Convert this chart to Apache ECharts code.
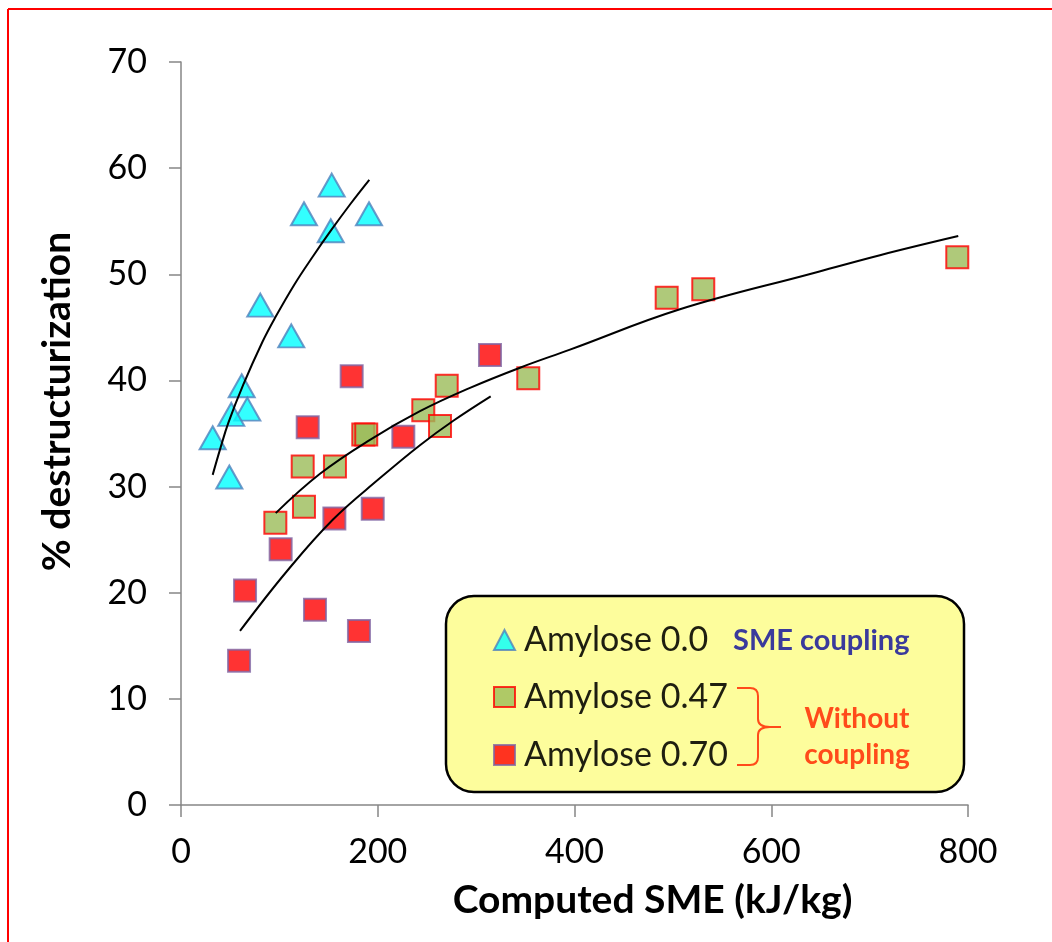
<!DOCTYPE html>
<html>
<head>
<meta charset="utf-8">
<script src="https://cdn.jsdelivr.net/npm/echarts@6/dist/echarts.min.js"></script>
<style>
  html, body { margin: 0; padding: 0; background: #fff; }
  #chart { width: 1052px; height: 942px; }
</style>
</head>
<body>
<div id="chart"></div>
<script>
// ---- Data ----
const seriesNames = ['Amylose 0.0', 'Amylose 0.47', 'Amylose 0.70'];

const sme00 = [153.2, 125.0, 191.1, 152.2, 80.6, 112.1, 61.7, 67.4, 51.1, 32.2, 49.1];
const des00 = [58.4, 55.7, 55.7, 54.1, 47.1, 44.2, 39.5, 37.3, 36.8, 34.6, 30.9];

const sme47 = [270.1, 246.3, 263.3, 185.3, 188.3, 123.7, 156.5, 125.0, 95.9, 353.0, 493.7, 530.9, 789.1];
const des47 = [39.5, 37.2, 35.7, 34.9, 34.9, 31.9, 31.9, 28.1, 26.6, 40.2, 47.8, 48.6, 51.6];

const sme70 = [314.1, 173.5, 128.8, 226.0, 155.9, 194.9, 101.3, 65.1, 136.2, 180.9, 59.0];
const des70 = [42.4, 40.4, 35.6, 34.7, 27.0, 27.9, 24.1, 20.2, 18.4, 16.4, 13.6];

// Trend curves
const fit00X = [32.2, 40.0, 48.1, 63.3, 82.6, 95.6, 115.0, 134.2, 153.0, 172.0, 191.4];
const fit00Y = [31.1, 33.6, 36.0, 39.6, 43.6, 45.9, 49.0, 51.7, 54.2, 56.6, 58.9];
const fit47X = [96.3, 141.3, 192.1, 242.9, 293.8, 344.6, 395.4, 507.2, 642.4, 710.5, 790.1];
const fit47Y = [27.5, 31.2, 34.4, 37.1, 39.3, 41.2, 42.9, 46.7, 50.1, 51.8, 53.6];
const fit70X = [60.0, 107.4, 154.5, 202.3, 242.9, 276.8, 314.8];
const fit70Y = [16.4, 22.0, 26.9, 30.8, 33.9, 36.2, 38.5];

const xTicks = [0, 200, 400, 600, 800];
const yTicks = [0, 10, 20, 30, 40, 50, 60, 70];

const zip = (a, b) => a.map((v, i) => [v, b[i]]);

const FONT = 'Lato';
const axisGray = '#868686';

const styles = {
  'Amylose 0.0': { color: '#00ffff', borderColor: '#4f81bd', borderWidth: 2 },
  'Amylose 0.47': { color: '#9bbb59', borderColor: '#ff0000', borderWidth: 2 },
  'Amylose 0.70': { color: '#ff0000', borderColor: '#8064a2', borderWidth: 2 }
};
const icons = { 'Amylose 0.0': 'triangle', 'Amylose 0.47': 'rect', 'Amylose 0.70': 'rect' };
const legendCenters = [640, 697, 755];
const LEG_LH = 34;

const chart = echarts.init(document.getElementById('chart'), null, { renderer: 'canvas' });

const legends = seriesNames.map((n, i) => ({
  data: [{ name: n, icon: icons[n], itemStyle: styles[n] }],
  left: 493,
  top: legendCenters[i] - LEG_LH / 2,
  padding: 0,
  itemWidth: 21,
  itemHeight: 20,
  z: 10,
  selectedMode: false,
  textStyle: { fontFamily: FONT, fontSize: 34, lineHeight: LEG_LH, color: '#1e1e10', padding: [0, 0, 0, 4] }
}));

const lineStyle = { color: '#000', width: 2 };

const braceColor = '#ff4b1a';
const bs = { stroke: braceColor, lineWidth: 2, fill: null };
const brace = [
  { type: 'line', z: 12, shape: { x1: 737, y1: 688, x2: 750, y2: 688 }, style: bs },
  { type: 'bezierCurve', z: 12, shape: { x1: 750, y1: 688, cpx1: 758, cpy1: 688, x2: 758, y2: 696 }, style: bs },
  { type: 'line', z: 12, shape: { x1: 758, y1: 696, x2: 758, y2: 719 }, style: bs },
  { type: 'bezierCurve', z: 12, shape: { x1: 758, y1: 719, cpx1: 758, cpy1: 727, x2: 770, y2: 727 }, style: bs },
  { type: 'line', z: 12, shape: { x1: 770, y1: 727, x2: 781, y2: 727 }, style: bs },
  { type: 'bezierCurve', z: 12, shape: { x1: 770, y1: 727, cpx1: 758, cpy1: 727, x2: 758, y2: 735 }, style: bs },
  { type: 'line', z: 12, shape: { x1: 758, y1: 735, x2: 758, y2: 757 }, style: bs },
  { type: 'bezierCurve', z: 12, shape: { x1: 758, y1: 757, cpx1: 758, cpy1: 765, x2: 750, y2: 765 }, style: bs },
  { type: 'line', z: 12, shape: { x1: 750, y1: 765, x2: 737, y2: 765 }, style: bs }
];

const option = {
  backgroundColor: '#ffffff',
  animation: false,
  grid: { left: 181, top: 62, right: 84, bottom: 137, containLabel: false, outerBoundsMode: 'none' },
  xAxis: {
    type: 'value', min: 0, max: 800, interval: 200,
    name: 'Computed SME (kJ/kg)', nameLocation: 'middle', nameGap: 76,
    nameTextStyle: { fontFamily: FONT, fontSize: 39, fontWeight: 'bold', color: '#000', padding: [0, 0, 0, 156] },
    axisLine: { show: true, onZero: false, lineStyle: { color: axisGray, width: 1.5 } },
    axisTick: { show: true, inside: false, length: 12, lineStyle: { color: axisGray, width: 1.5 } },
    axisLabel: { fontFamily: FONT, fontSize: 34, color: '#000', margin: 30,
      formatter: v => xTicks.includes(v) ? String(v) : '' },
    splitLine: { show: false }
  },
  yAxis: {
    type: 'value', min: 0, max: 70, interval: 10,
    name: '% destructurization', nameLocation: 'middle', nameGap: 104, nameRotate: 90,
    nameTextStyle: { fontFamily: FONT, fontSize: 39, fontWeight: 'bold', color: '#000', padding: [0, 0, 0, 64] },
    axisLine: { show: true, onZero: false, lineStyle: { color: axisGray, width: 1.5 } },
    axisTick: { show: true, inside: false, length: 12, lineStyle: { color: axisGray, width: 1.5 } },
    axisLabel: { fontFamily: FONT, fontSize: 34, color: '#000', margin: 34,
      formatter: v => yTicks.includes(v) ? String(v) : '' },
    splitLine: { show: false }
  },
  legend: legends,
  series: [
    { name: 'Amylose 0.70', type: 'scatter', data: zip(sme70, des70), symbol: 'rect', symbolSize: 22,
      itemStyle: styles['Amylose 0.70'], z: 2 },
    { name: 'Amylose 0.47', type: 'scatter', data: zip(sme47, des47), symbol: 'rect', symbolSize: 22,
      itemStyle: styles['Amylose 0.47'], z: 3 },
    { name: 'Amylose 0.0', type: 'scatter', data: zip(sme00, des00), symbol: 'triangle', symbolSize: [26, 23],
      itemStyle: styles['Amylose 0.0'], z: 4 },
    { name: 'fit00', type: 'line', data: zip(fit00X, fit00Y), smooth: 0.4, showSymbol: false, symbol: 'none',
      lineStyle: lineStyle, z: 6, silent: true },
    { name: 'fit47', type: 'line', data: zip(fit47X, fit47Y), smooth: 0.4, showSymbol: false, symbol: 'none',
      lineStyle: lineStyle, z: 6, silent: true },
    { name: 'fit70', type: 'line', data: zip(fit70X, fit70Y), smooth: 0.4, showSymbol: false, symbol: 'none',
      lineStyle: lineStyle, z: 6, silent: true }
  ],
  graphic: [
    { type: 'line', z: 1, shape: { x1: 8, y1: 9, x2: 1052, y2: 9 }, style: { stroke: '#ff0000', lineWidth: 2 } },
    { type: 'line', z: 1, shape: { x1: 8, y1: 9, x2: 8, y2: 942 }, style: { stroke: '#ff0000', lineWidth: 2 } },
    { type: 'rect', z: 1, shape: { x: 446, y: 596, width: 518, height: 196, r: 28 },
      style: { fill: '#fdfd9c', stroke: '#000', lineWidth: 2.5 } },
    { type: 'text', z: 12, style: { x: 733, y: 641, text: 'SME coupling', fill: '#3a3a9c',
      font: 'bold 29px Lato', textVerticalAlign: 'middle', textAlign: 'left' } },
    { type: 'text', z: 12, style: { x: 857, y: 719, text: 'Without', fill: braceColor,
      font: 'bold 28px Lato', textVerticalAlign: 'middle', textAlign: 'center' } },
    { type: 'text', z: 12, style: { x: 857, y: 755, text: 'coupling', fill: braceColor,
      font: 'bold 28px Lato', textVerticalAlign: 'middle', textAlign: 'center' } }
  ].concat(brace)
};

chart.setOption(option);
</script>
</body>
</html>
